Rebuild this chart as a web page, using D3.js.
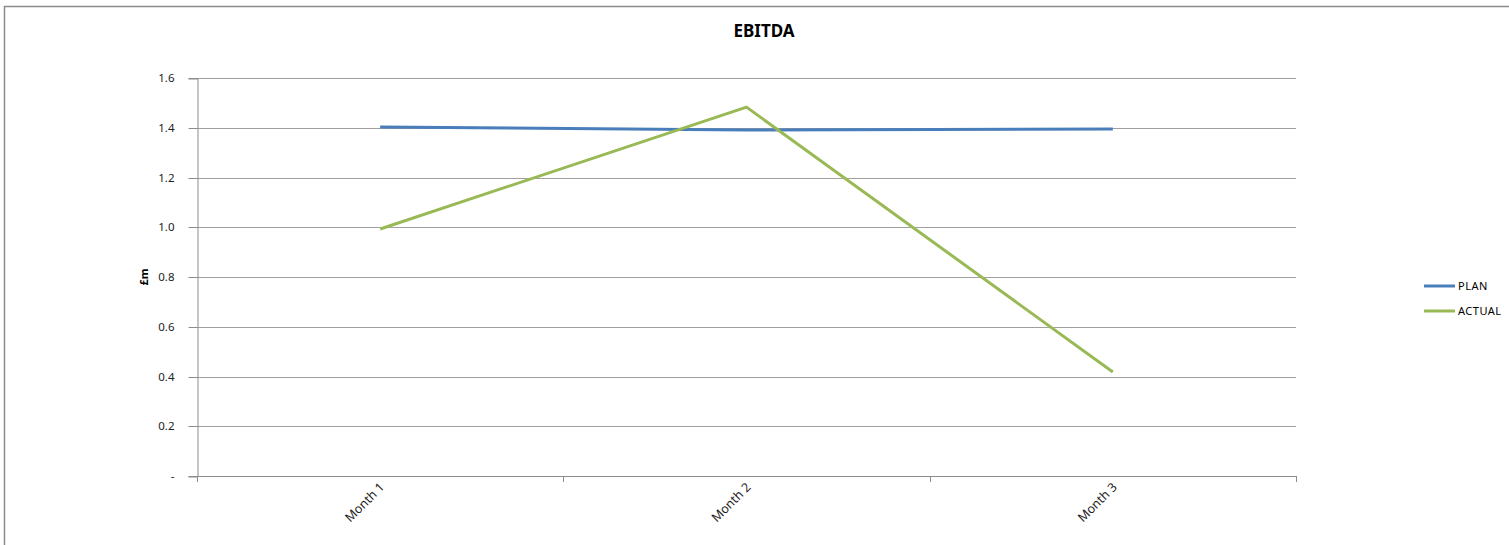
<!DOCTYPE html>
<html><head><meta charset="utf-8">
<script src="https://cdn.jsdelivr.net/npm/d3@7"></script>
<style>
html,body{margin:0;padding:0;background:#fff;}
svg{display:block;font-family:"Noto Sans","Open Sans",sans-serif;}
</style></head>
<body>
<svg id="chart" width="1509" height="545"></svg>
<script>
const categories = ["Month 1", "Month 2", "Month 3"];
const planValues = [1.403, 1.391, 1.395];
const actualValues = [0.993, 1.483, 0.418];
const yTicks = [0, 0.2, 0.4, 0.6, 0.8, 1.0, 1.2, 1.4, 1.6];
const seriesNames = ["PLAN", "ACTUAL"];
const seriesColors = ["#4a7ebb", "#98b954"];

(function () {
const svg = d3.select("#chart");
svg.append("rect").attr("x", 4.5).attr("y", 6.5).attr("width", 1520).attr("height", 560)
  .attr("fill", "none").attr("stroke", "#8c8c8c").attr("stroke-width", 1.5);

const pL = 197, pR = 1296, pT = 78, pB = 476;
const x = d3.scaleBand().domain(categories).range([pL, pR]).padding(0);
const y = d3.scaleLinear().domain([0, 1.6]).range([pB, pT]);

svg.append("g").selectAll("line").data(yTicks).join("line")
  .attr("x1", pL).attr("x2", pR)
  .attr("y1", d => Math.round(y(d)) + 0.5).attr("y2", d => Math.round(y(d)) + 0.5)
  .attr("stroke", "#a0a0a0").attr("stroke-width", 1);

const yAxis = d3.axisLeft(y).tickValues(yTicks).tickSize(9).tickPadding(14)
  .tickFormat(d => d === 0 ? "-" : d3.format(".1f")(d));
const gy = svg.append("g").attr("transform", `translate(${pL + 0.5},0.5)`).call(yAxis);
gy.select(".domain").attr("stroke", "#8c8c8c");
gy.selectAll(".tick line").attr("stroke", "#8c8c8c");
gy.selectAll(".tick text").attr("font-size", 11.5).attr("fill", "#222")
  .attr("font-family", "'Noto Sans',sans-serif");
gy.selectAll(".tick").attr("transform", d => `translate(0,${Math.round(y(d))})`);

const boundaries = [pL, ...categories.map(c => x(c) + x.bandwidth())];
svg.append("line").attr("x1", pL).attr("x2", pR)
  .attr("y1", pB + 0.5).attr("y2", pB + 0.5).attr("stroke", "#8c8c8c");
svg.append("g").selectAll("line").data(boundaries).join("line")
  .attr("x1", d => Math.round(d) + 0.5).attr("x2", d => Math.round(d) + 0.5)
  .attr("y1", pB).attr("y2", pB + 6).attr("stroke", "#8c8c8c");
svg.append("g").selectAll("text").data(categories).join("text")
  .attr("transform", d => `translate(${x(d) + x.bandwidth() / 2 + 5},${pB + 12}) rotate(-45)`)
  .attr("text-anchor", "end").attr("font-size", 12.5).attr("fill", "#222")
  .text(d => d);

const line = d3.line().x((d, i) => x(categories[i]) + x.bandwidth() / 2).y(d => y(d));
[planValues, actualValues].forEach((vals, k) => {
  svg.append("path").datum(vals).attr("d", line)
    .attr("fill", "none").attr("stroke", seriesColors[k]).attr("stroke-width", 3)
    .attr("stroke-linejoin", "round");
});

svg.append("text").attr("x", 764).attr("y", 37).attr("text-anchor", "middle")
  .attr("font-size", 17).attr("font-weight", "bold").attr("fill", "#000").text("EBITDA");

svg.append("text").attr("transform", "translate(148,277) rotate(-90)")
  .attr("text-anchor", "middle").attr("font-size", 11).attr("font-weight", "bold")
  .attr("fill", "#000").text("£m");

const lg = svg.append("g").selectAll("g").data(seriesNames).join("g")
  .attr("transform", (d, i) => `translate(1424,${286 + i * 25})`);
lg.append("line").attr("x1", 0).attr("x2", 31).attr("y1", 0).attr("y2", 0)
  .attr("stroke", (d, i) => seriesColors[i]).attr("stroke-width", 3);
lg.append("text").attr("x", 34).attr("y", 4).attr("font-size", 11).attr("fill", "#000")
  .attr("letter-spacing", 0.5).text(d => d);
})();
</script>
</body></html>
